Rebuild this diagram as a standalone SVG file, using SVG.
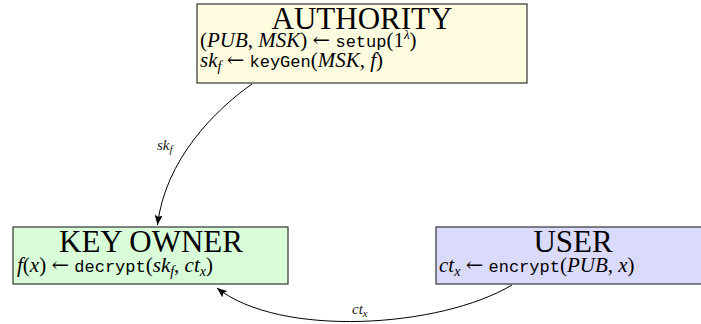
<svg xmlns="http://www.w3.org/2000/svg" width="701" height="324" viewBox="0 0 701 324">
<style>
.box{stroke:#333;stroke-width:1.2}
.title{font-family:"Liberation Serif","Times New Roman",serif;font-size:31px;fill:#000;text-anchor:middle}
.m{font-family:"Liberation Serif","Times New Roman",serif;font-size:21px;fill:#000}
.i{font-style:italic}
.ar{font-family:"DejaVu Serif",serif;font-style:normal}
.tt{font-family:"Liberation Mono","Courier New",monospace;font-size:17px}
.lbl{font-family:"Liberation Serif","Times New Roman",serif;font-size:15px;font-style:italic;fill:#222}
.edge{fill:none;stroke:#000;stroke-width:1}
</style>
<defs>
<marker id="arr" viewBox="0 0 10 8" refX="10" refY="4" markerWidth="10" markerHeight="8" markerUnits="userSpaceOnUse" orient="auto">
<path d="M0,0 L10,4 L0,8 L2,4 Z" fill="#000"/>
</marker>
</defs>
<g id="connectors">
<path class="edge" d="M252,84 C215,110 165,160 157.5,225" marker-end="url(#arr)"/>
<text class="lbl" x="157" y="150">sk<tspan font-size="11" dy="3">f</tspan></text>
<path class="edge" d="M512,285 C440,328 280,338 217,288" marker-end="url(#arr)"/>
<text class="lbl" x="352" y="314">ct<tspan font-size="11" dy="3">x</tspan></text>
</g>
<g id="authority">
<rect class="box" x="197" y="4" width="330" height="79" fill="#FFFCE0"/>
<text class="title" x="362" y="29">AUTHORITY</text>
<text class="m" x="200" y="47">(<tspan class="i">PUB</tspan>, <tspan class="i">MSK</tspan>) <tspan class="ar">←</tspan> <tspan class="tt">setup</tspan>(1<tspan class="i" font-size="13" dy="-8">λ</tspan><tspan dy="8">)</tspan></text>
<text class="m" x="200" y="67"><tspan class="i">sk</tspan><tspan class="i" font-size="14" dy="4">f</tspan><tspan dy="-4"> </tspan><tspan class="ar">←</tspan> <tspan class="tt">keyGen</tspan>(<tspan class="i">MSK</tspan>, <tspan class="i">f</tspan>)</text>
</g>
<g id="keyowner">
<rect class="box" x="13" y="227" width="275" height="57" fill="#D9FCD9"/>
<text class="title" x="151" y="252">KEY OWNER</text>
<text class="m" x="17" y="272"><tspan class="i">f</tspan>(<tspan class="i">x</tspan>) <tspan class="ar">←</tspan> <tspan class="tt">decrypt</tspan>(<tspan class="i">sk</tspan><tspan class="i" font-size="14" dy="4">f</tspan><tspan dy="-4">, </tspan><tspan class="i">ct</tspan><tspan class="i" font-size="14" dy="4">x</tspan><tspan dy="-4">)</tspan></text>
</g>
<g id="user">
<rect class="box" x="436" y="227" width="275" height="57" fill="#DADAFC"/>
<text class="title" x="573" y="252">USER</text>
<text class="m" x="439" y="272"><tspan class="i">ct</tspan><tspan class="i" font-size="14" dy="4">x</tspan><tspan dy="-4"> </tspan><tspan class="ar">←</tspan> <tspan class="tt">encrypt</tspan>(<tspan class="i">PUB</tspan>, <tspan class="i">x</tspan>)</text>
</g>
</svg>
